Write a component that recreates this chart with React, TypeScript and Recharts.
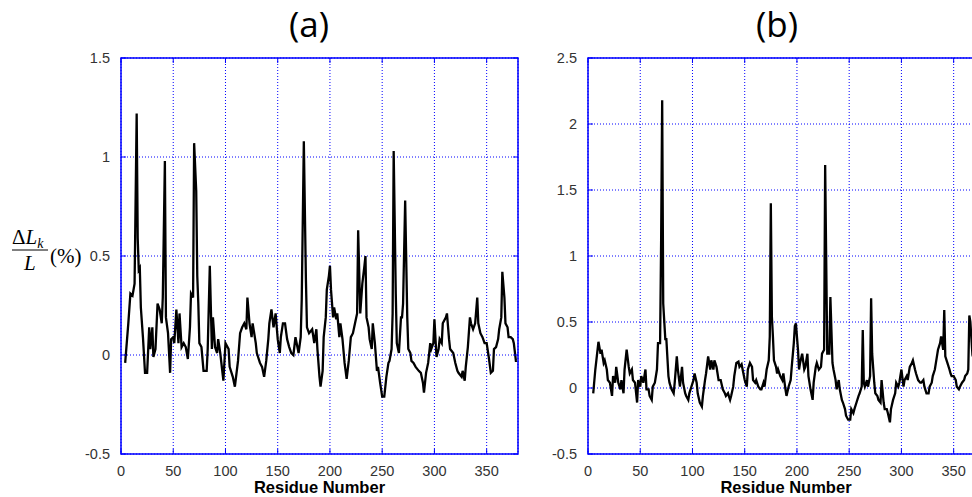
import React from 'react';
import { LineChart, Line, XAxis, YAxis, CartesianGrid, ReferenceArea } from 'recharts';

// residue numbers and relative length change (%)
const residuesA = [
  4, 7, 9, 11, 13, 15, 16, 17, 18, 19, 21, 23, 25, 27, 28, 30, 31, 33, 35, 37,
  39, 40, 42, 43, 45, 47, 48, 50, 51, 53, 55, 56, 58, 60, 62, 64, 66, 67, 69, 70,
  72, 73, 74, 75, 77, 79, 82, 83, 85, 87, 88, 90, 92, 93, 95, 98, 100, 103, 104, 107,
  109, 112, 114, 116, 118, 120, 121, 123, 125, 126, 129, 130, 133, 135, 137, 139, 141, 142, 144, 146,
  148, 150, 152, 153, 155, 157, 159, 161, 163, 165, 167, 170, 172, 173, 175, 177, 178, 180, 183, 185,
  187, 188, 190, 191, 193, 194, 196, 197, 199, 200, 201, 203, 204, 206, 207, 209, 210, 212, 214, 216,
  218, 220, 222, 224, 226, 227, 229, 231, 233, 234, 235, 237, 238, 240, 241, 243, 245, 246, 248, 250,
  252, 254, 256, 257, 259, 260, 261, 263, 264, 266, 268, 269, 270, 272, 274, 275, 277, 278, 280, 282,
  285, 287, 289, 290, 292, 294, 296, 297, 299, 300, 302, 304, 305, 307, 308, 311, 312, 314, 315, 318,
  320, 322, 323, 326, 327, 329, 330, 332, 334, 335, 337, 339, 341, 342, 344, 346, 348, 350, 352, 354,
  356, 357, 359, 361, 362, 364, 365, 367, 368, 370, 371, 373, 375, 376, 378, 379,
];
const changeA = [
  -0.04, 0.16, 0.31, 0.3, 0.36, 1.22, 0.59, 0.43, 0.44, 0.24, 0.09, -0.09, -0.09, 0.14, 0.03, 0.14, -0.01, 0.03, 0.26, 0.23,
  0.16, 0.29, 0.98, 0.19, 0.11, -0.09, 0.08, 0.09, 0.06, 0.23, 0.06, 0.21, 0.04, 0.06, 0.04, -0.02, 0.14, 0.31, 0.29, 1.07,
  0.83, 0.4, 0.26, 0.06, 0.04, -0.08, -0.08, 0.03, 0.45, 0.03, 0.19, 0.04, 0.01, 0.08, 0.01, -0.13, 0.06, 0.03, -0.06, -0.11,
  -0.16, -0.03, 0.11, 0.14, 0.16, 0.13, 0.29, 0.16, 0.09, 0.16, 0.06, 0.01, -0.04, -0.06, -0.11, -0.03, 0.08, 0.16, 0.23, 0.14,
  0.21, 0.08, 0.01, 0.09, 0.16, 0.16, 0.08, 0.04, 0.01, 0, 0.09, 0.01, 0.09, 0.28, 1.08, 0.38, 0.14, 0.11, 0.13, 0.06,
  0.13, 0.03, -0.11, -0.16, -0.08, 0.09, 0.19, 0.33, 0.4, 0.45, 0.33, 0.19, 0.24, 0.18, 0.21, 0.09, 0.16, 0.08, -0.04, -0.12,
  -0.03, 0.09, 0.11, 0.16, 0.21, 0.63, 0.21, 0.36, 0.45, 0.5, 0.19, 0.14, 0.08, 0.03, 0.16, 0.06, -0.08, -0.06, -0.14, -0.21,
  -0.21, -0.11, -0.04, -0.03, 0.03, 0.21, 1.03, 0.31, 0.06, 0.01, 0.19, 0.19, 0.26, 0.78, 0.19, 0.03, 0.01, -0.03, -0.04, -0.06,
  -0.08, -0.09, -0.14, -0.19, -0.09, -0.04, 0.06, 0.03, 0.06, 0.18, -0.01, 0.03, 0.08, 0.06, 0.16, 0.19, 0.21, 0.08, 0.03, 0.01,
  -0.04, -0.08, -0.09, -0.11, -0.08, -0.13, -0.06, 0.04, 0.19, 0.16, 0.13, 0.16, 0.29, 0.16, 0.11, 0.09, 0.06, 0.06, -0.01, -0.09,
  -0.08, 0.03, 0.04, 0.08, 0.13, 0.19, 0.42, 0.29, 0.16, 0.14, 0.09, 0.09, 0.08, 0.06, -0.03, -0.03,
];

// panel (b)
const residuesB = [
  5, 7, 8, 10, 12, 13, 15, 16, 18, 19, 21, 23, 24, 26, 27, 29, 31, 32, 34, 35,
  37, 39, 40, 42, 43, 45, 47, 48, 50, 51, 53, 55, 56, 58, 59, 61, 62, 64, 66, 67,
  69, 70, 71, 72, 74, 75, 77, 78, 80, 82, 83, 85, 86, 88, 90, 91, 93, 94, 96, 97,
  99, 101, 102, 104, 105, 107, 109, 110, 112, 113, 115, 117, 118, 120, 121, 123, 125, 127, 129, 131,
  132, 134, 136, 137, 139, 140, 142, 144, 145, 147, 148, 150, 152, 153, 155, 157, 158, 160, 161, 163,
  165, 166, 168, 169, 171, 173, 174, 175, 176, 177, 178, 180, 181, 182, 184, 186, 187, 189, 190, 192,
  194, 195, 197, 198, 199, 201, 202, 203, 205, 207, 208, 210, 211, 213, 215, 216, 218, 219, 221, 223,
  224, 226, 227, 229, 231, 232, 234, 235, 237, 238, 240, 241, 243, 244, 246, 247, 249, 251, 252, 254,
  255, 257, 259, 260, 262, 263, 264, 265, 267, 268, 270, 271, 272, 274, 275, 277, 278, 280, 281, 283,
  284, 286, 287, 289, 290, 292, 294, 295, 297, 298, 300, 302, 303, 305, 306, 308, 310, 311, 313, 314,
  316, 318, 319, 321, 322, 324, 326, 327, 329, 330, 332, 333, 335, 337, 338, 340, 341, 342, 344, 346,
  347, 348, 350, 352, 353, 355, 356, 358, 360, 361, 363, 364, 365, 366, 368, 370,
];
const changeB = [
  -0.04, 0.14, 0.21, 0.35, 0.26, 0.29, 0.19, 0.21, 0.14, 0.06, 0.04, -0.06, 0.09, 0.04, 0.16, 0.04, -0.01, 0.06, -0.04, 0.14,
  0.29, 0.16, 0.11, 0.14, 0.06, 0.04, -0.11, 0.06, 0.01, 0.09, 0.04, 0.14, -0.01, -0.01, -0.06, -0.09, 0.01, 0.04, 0.14, 0.34,
  0.34, 1.12, 2.18, 0.64, 0.37, 0.37, 0.09, 0.04, -0.01, -0.04, 0.04, 0.24, 0.14, 0.01, 0.16, 0.04, -0.04, -0.06, -0.09, -0.04,
  0.01, 0.06, 0.11, 0.04, -0.04, -0.11, -0.14, -0.06, 0.06, 0.11, 0.24, 0.14, 0.21, 0.14, 0.21, 0.16, 0.06, 0.06, -0.01, -0.04,
  -0.06, -0.04, -0.09, -0.06, 0.01, 0.09, 0.19, 0.2, 0.16, 0.18, 0.14, 0.06, 0.01, 0.14, 0.19, 0.16, 0.06, 0.04, 0.06, 0.01,
  -0.01, -0.01, 0.04, 0.01, 0.14, 0.21, 0.39, 1.4, 0.54, 0.39, 0.21, 0.16, 0.11, 0.14, 0.09, 0.06, 0.11, -0.01, -0.06, 0.01,
  0.06, 0.16, 0.34, 0.47, 0.49, 0.29, 0.14, 0.19, 0.26, 0.14, 0.16, 0.26, 0.09, -0.01, -0.09, 0.04, 0.16, 0.19, 0.14, 0.16,
  0.26, 0.29, 1.69, 0.26, 0.26, 0.69, 0.19, 0.14, 0.06, -0.01, 0.06, -0.01, -0.09, -0.11, -0.16, -0.21, -0.24, -0.24, -0.16, -0.19,
  -0.16, -0.11, -0.06, -0.04, 0.01, 0.44, 0.04, 0.01, 0.06, 0.01, 0.09, 0.68, 0.26, 0.04, -0.04, -0.06, -0.09, -0.11, 0.06, -0.11,
  -0.16, -0.16, -0.19, -0.26, -0.16, -0.09, -0.04, 0.04, 0.01, 0.04, 0.14, 0.01, 0.06, 0.09, 0.06, 0.16, 0.19, 0.21, 0.14, 0.11,
  0.06, 0.04, 0.04, 0.06, 0.01, -0.04, -0.04, 0.01, 0.04, 0.09, 0.14, 0.19, 0.29, 0.34, 0.39, 0.29, 0.59, 0.24, 0.19, 0.14,
  0.11, 0.09, 0.09, 0.06, 0.01, -0.01, 0.01, 0.04, 0.06, 0.09, 0.11, 0.14, 0.55, 0.5, 0.25, 0.2,
];

const xTicks = [0, 50, 100, 150, 200, 250, 300, 350];
const yTicksA = [-0.5, 0, 0.5, 1, 1.5];
const yTicksB = [-0.5, 0, 0.5, 1, 1.5, 2, 2.5];

const BLUE = '#0000ff';
const CHART_W = 530;
const CHART_H = 497;
const LEFT = 121;
const RIGHT = 518;
const TOP = 58;
const BOTTOM = 454;
const TICK_FONT = "'Liberation Sans', Arial, sans-serif";

const XTick = (props: any) => {
  const x = props.x;
  return (
    <g>
      <line x1={x} x2={x} y1={BOTTOM} y2={BOTTOM - 5} stroke={BLUE} />
      <line x1={x} x2={x} y1={TOP} y2={TOP + 5} stroke={BLUE} />
      <text x={x} y={475.5} textAnchor="middle" fontSize={14.5} fill="#333" fontFamily={TICK_FONT}>
        {props.payload.value}
      </text>
    </g>
  );
};

const YTick = (props: any) => {
  const y = props.y;
  return (
    <g>
      <line x1={LEFT} x2={LEFT + 5} y1={y} y2={y} stroke={BLUE} />
      <line x1={RIGHT} x2={RIGHT - 5} y1={y} y2={y} stroke={BLUE} />
      <text x={LEFT - 11} y={y + 5.3} textAnchor="end" fontSize={14.5} fill="#333" fontFamily={TICK_FONT}>
        {props.payload.value}
      </text>
    </g>
  );
};

const Panel = ({ residues, change, yTicks, yMax }: any) => {
  const data = residues.map((r: number, i: number) => ({ r, v: change[i] }));
  return (
    <LineChart width={CHART_W} height={CHART_H} data={data} margin={{ top: TOP, right: CHART_W - RIGHT, bottom: 13, left: 0 }}>
      <CartesianGrid stroke={BLUE} strokeDasharray="1 2" />
      <XAxis
        type="number"
        dataKey="r"
        domain={[0, 380]}
        ticks={xTicks}
        height={30}
        tickSize={0}
        tickMargin={0}
        axisLine={false}
        tick={XTick}
      />
      <YAxis
        type="number"
        domain={[-0.5, yMax]}
        ticks={yTicks}
        width={LEFT}
        tickSize={0}
        tickMargin={0}
        axisLine={false}
        tick={YTick}
      />
      <ReferenceArea x1={0} x2={380} y1={-0.5} y2={yMax} fill="none" stroke={BLUE} strokeWidth={1.5} />
      <Line type="linear" dataKey="v" stroke="#000" strokeWidth={2.3} dot={false} isAnimationActive={false} />
    </LineChart>
  );
};

export default function App() {
  return (
    <div style={{ position: 'fixed', left: 0, top: 0, width: 972, height: 497, overflow: 'hidden', background: '#fff' }}>
      <div style={{ position: 'absolute', left: 0, top: 0 }}>
        <Panel residues={residuesA} change={changeA} yTicks={yTicksA} yMax={1.5} />
      </div>
      <div style={{ position: 'absolute', left: 467, top: 0 }}>
        <Panel residues={residuesB} change={changeB} yTicks={yTicksB} yMax={2.5} />
      </div>
      <svg width={972} height={497} style={{ position: 'absolute', left: 0, top: 0, pointerEvents: 'none' }}>
        <g fontFamily="'Open Sans', 'Noto Sans', sans-serif" fontSize={35} fill="#000" textAnchor="middle">
          <text x={309} y={37}>(a)</text>
          <text x={777} y={37}>(b)</text>
        </g>
        <g fontFamily={TICK_FONT} fontSize={16.5} fontWeight="bold" fill="#000" textAnchor="middle">
          <text x={319.5} y={493}>Residue Number</text>
          <text x={786} y={493}>Residue Number</text>
        </g>
        <g fontFamily="'Liberation Serif', 'DejaVu Serif', serif" fontSize={21} fill="#000">
          <text x={12} y={244}>
            Δ<tspan fontStyle="italic">L</tspan>
            <tspan fontStyle="italic" fontSize={14} dy={4}>k</tspan>
          </text>
          <line x1={12} x2={48} y1={250} y2={250} stroke="#000" strokeWidth={1} />
          <text x={24} y={270} fontStyle="italic">L</text>
          <text x={50} y={263}>(%)</text>
        </g>
      </svg>
    </div>
  );
}
